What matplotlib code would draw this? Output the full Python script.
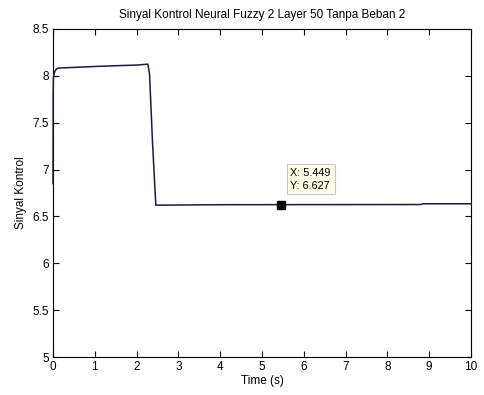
import matplotlib
matplotlib.use("Agg")
import matplotlib.pyplot as plt

t = [0, 0.004, 0.01, 0.03, 0.06, 0.1, 0.2, 0.5, 1.0, 1.5, 2.0, 2.27, 2.31, 2.38, 2.46, 4.0, 8.8, 8.85, 10]
u = [6.85, 7.8, 7.98, 8.03, 8.06, 8.08, 8.085, 8.09, 8.1, 8.108, 8.115, 8.125, 8.02, 7.3, 6.62, 6.625, 6.627, 6.635, 6.635]

tip_x = 5.449
tip_y = 6.627

xticks = list(range(0, 11))
yticks = [5, 5.5, 6, 6.5, 7, 7.5, 8, 8.5]
yticklabels = ["5", "5.5", "6", "6.5", "7", "7.5", "8", "8.5"]

plt.rcParams['font.family'] = ['Liberation Sans', 'DejaVu Sans']
fig = plt.figure(figsize=(4.84, 3.95), dpi=100)
ax = fig.add_axes([0.1095, 0.0962, 0.8635, 0.8304])
ax.plot(t, u, color='#1c1c3a', lw=1.1, zorder=3, clip_on=False)
ax.plot([tip_x], [tip_y], marker='s', color='black', ms=6, ls='none', zorder=4)
ax.annotate(f"X: {tip_x}\nY: {tip_y}", xy=(tip_x, tip_y), xytext=(7, 10),
            textcoords='offset points', fontsize=7.8, va='bottom', ha='left',
            linespacing=1.35,
            bbox=dict(boxstyle='square,pad=0.35', fc='#ffffe6', ec='#c8c8c8', lw=0.8))
ax.set_xlim(0, 10)
ax.set_ylim(5, 8.5)
ax.set_xticks(xticks)
ax.set_yticks(yticks)
ax.set_yticklabels(yticklabels)
ax.tick_params(direction='in', top=True, right=True, labelsize=8.5, length=4, width=0.8, pad=3)
for s in ax.spines.values():
    s.set_linewidth(0.8)
ax.set_title("Sinyal Kontrol Neural Fuzzy 2 Layer 50 Tanpa Beban 2", fontsize=8.5, pad=8)
ax.set_xlabel("Time (s)", fontsize=8.5, labelpad=1)
ax.set_ylabel("Sinyal Kontrol", fontsize=8.5, labelpad=4)
fig.savefig("out.png", dpi=100)
